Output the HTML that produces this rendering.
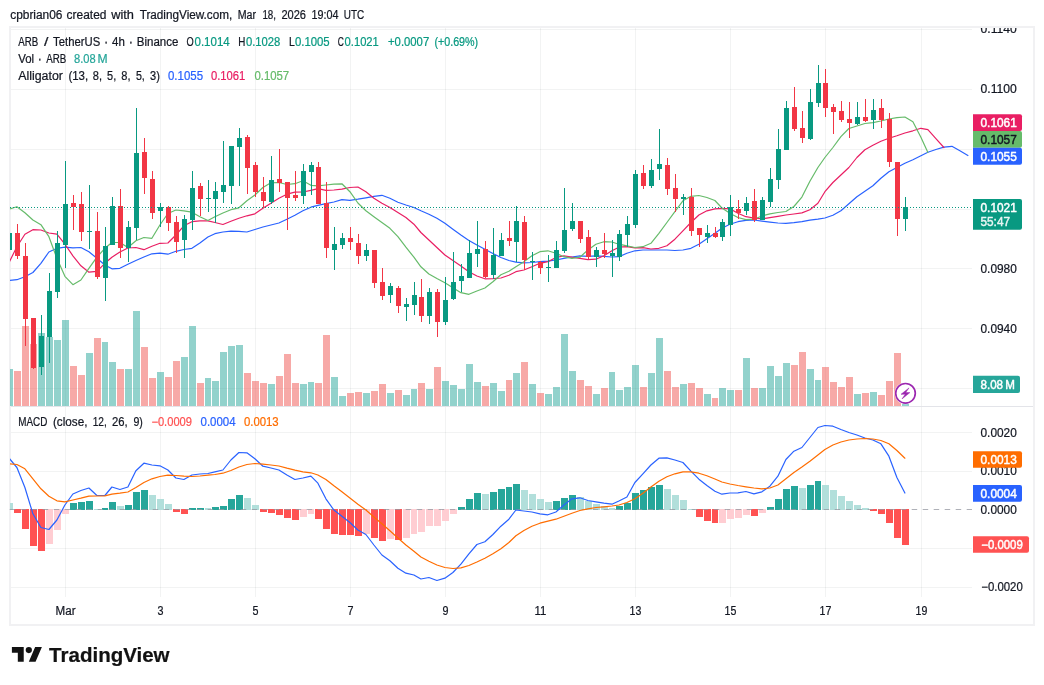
<!DOCTYPE html>
<html lang="en"><head><meta charset="utf-8"><title>ARB / TetherUS chart</title>
<style>html,body{margin:0;padding:0;background:#fff;}body{width:1044px;height:685px;overflow:hidden;}svg{display:block;will-change:transform;}</style>
</head><body>
<svg width="1044" height="685" viewBox="0 0 1044 685" font-family='"Liberation Sans", sans-serif' font-size="12" fill="#131722">
<defs>
<clipPath id="cmain"><rect x="10" y="28" width="962" height="378"/></clipPath>
<clipPath id="cmacd"><rect x="10" y="407" width="962" height="190"/></clipPath>
<clipPath id="caxis"><rect x="972" y="28" width="61" height="378"/></clipPath>
</defs>
<rect width="1044" height="685" fill="#fff"/>
<rect x="10" y="27" width="1024" height="598" fill="none" stroke="#f1f1f3" stroke-width="2" shape-rendering="crispEdges"/>
<g stroke="#2a2e39" stroke-opacity="0.06" stroke-width="1" shape-rendering="crispEdges">
<line x1="65.5" y1="28" x2="65.5" y2="597"/>
<line x1="160.5" y1="28" x2="160.5" y2="597"/>
<line x1="255.5" y1="28" x2="255.5" y2="597"/>
<line x1="350.5" y1="28" x2="350.5" y2="597"/>
<line x1="445.5" y1="28" x2="445.5" y2="597"/>
<line x1="540.5" y1="28" x2="540.5" y2="597"/>
<line x1="635.5" y1="28" x2="635.5" y2="597"/>
<line x1="730.5" y1="28" x2="730.5" y2="597"/>
<line x1="825.5" y1="28" x2="825.5" y2="597"/>
<line x1="921.5" y1="28" x2="921.5" y2="597"/>
<line x1="11" y1="29.5" x2="972" y2="29.5"/>
<line x1="11" y1="89.5" x2="972" y2="89.5"/>
<line x1="11" y1="149.5" x2="972" y2="149.5"/>
<line x1="11" y1="209.5" x2="972" y2="209.5"/>
<line x1="11" y1="268.5" x2="972" y2="268.5"/>
<line x1="11" y1="328.5" x2="972" y2="328.5"/>
<line x1="11" y1="388.5" x2="972" y2="388.5"/>
<line x1="11" y1="432.5" x2="972" y2="432.5"/>
<line x1="11" y1="471.5" x2="972" y2="471.5"/>
<line x1="11" y1="548.5" x2="972" y2="548.5"/>
<line x1="11" y1="587.5" x2="972" y2="587.5"/>
</g>
<g clip-path="url(#cmain)" shape-rendering="crispEdges">
<rect x="6" y="369" width="7" height="37" fill="rgba(38,166,154,0.5)"/>
<rect x="14" y="371" width="7" height="35" fill="rgba(239,83,80,0.5)"/>
<rect x="22" y="326" width="7" height="80" fill="rgba(239,83,80,0.5)"/>
<rect x="30" y="344" width="7" height="62" fill="rgba(239,83,80,0.5)"/>
<rect x="38" y="333" width="7" height="73" fill="rgba(38,166,154,0.5)"/>
<rect x="46" y="337" width="7" height="69" fill="rgba(38,166,154,0.5)"/>
<rect x="54" y="340" width="7" height="66" fill="rgba(38,166,154,0.5)"/>
<rect x="62" y="320" width="7" height="86" fill="rgba(38,166,154,0.5)"/>
<rect x="70" y="366" width="7" height="40" fill="rgba(239,83,80,0.5)"/>
<rect x="78" y="375" width="7" height="31" fill="rgba(239,83,80,0.5)"/>
<rect x="86" y="353" width="7" height="53" fill="rgba(38,166,154,0.5)"/>
<rect x="94" y="338" width="7" height="68" fill="rgba(239,83,80,0.5)"/>
<rect x="102" y="342" width="6" height="64" fill="rgba(38,166,154,0.5)"/>
<rect x="109" y="362" width="7" height="44" fill="rgba(38,166,154,0.5)"/>
<rect x="117" y="369" width="7" height="37" fill="rgba(239,83,80,0.5)"/>
<rect x="125" y="369" width="7" height="37" fill="rgba(38,166,154,0.5)"/>
<rect x="133" y="311" width="7" height="95" fill="rgba(38,166,154,0.5)"/>
<rect x="141" y="347" width="7" height="59" fill="rgba(239,83,80,0.5)"/>
<rect x="149" y="378" width="7" height="28" fill="rgba(239,83,80,0.5)"/>
<rect x="157" y="372" width="7" height="34" fill="rgba(38,166,154,0.5)"/>
<rect x="165" y="377" width="7" height="29" fill="rgba(239,83,80,0.5)"/>
<rect x="173" y="361" width="7" height="45" fill="rgba(239,83,80,0.5)"/>
<rect x="181" y="357" width="7" height="49" fill="rgba(38,166,154,0.5)"/>
<rect x="189" y="326" width="7" height="80" fill="rgba(38,166,154,0.5)"/>
<rect x="197" y="383" width="7" height="23" fill="rgba(239,83,80,0.5)"/>
<rect x="205" y="378" width="6" height="28" fill="rgba(38,166,154,0.5)"/>
<rect x="212" y="381" width="7" height="25" fill="rgba(38,166,154,0.5)"/>
<rect x="220" y="352" width="7" height="54" fill="rgba(38,166,154,0.5)"/>
<rect x="228" y="346" width="7" height="60" fill="rgba(38,166,154,0.5)"/>
<rect x="236" y="345" width="7" height="61" fill="rgba(38,166,154,0.5)"/>
<rect x="244" y="373" width="7" height="33" fill="rgba(239,83,80,0.5)"/>
<rect x="252" y="381" width="7" height="25" fill="rgba(239,83,80,0.5)"/>
<rect x="260" y="383" width="7" height="23" fill="rgba(239,83,80,0.5)"/>
<rect x="268" y="384" width="7" height="22" fill="rgba(38,166,154,0.5)"/>
<rect x="276" y="376" width="7" height="30" fill="rgba(239,83,80,0.5)"/>
<rect x="284" y="354" width="7" height="52" fill="rgba(239,83,80,0.5)"/>
<rect x="292" y="383" width="7" height="23" fill="rgba(239,83,80,0.5)"/>
<rect x="300" y="384" width="7" height="22" fill="rgba(38,166,154,0.5)"/>
<rect x="308" y="382" width="6" height="24" fill="rgba(38,166,154,0.5)"/>
<rect x="315" y="383" width="7" height="23" fill="rgba(239,83,80,0.5)"/>
<rect x="323" y="335" width="7" height="71" fill="rgba(239,83,80,0.5)"/>
<rect x="331" y="377" width="7" height="29" fill="rgba(38,166,154,0.5)"/>
<rect x="339" y="396" width="7" height="10" fill="rgba(38,166,154,0.5)"/>
<rect x="347" y="393" width="7" height="13" fill="rgba(239,83,80,0.5)"/>
<rect x="355" y="392" width="7" height="14" fill="rgba(239,83,80,0.5)"/>
<rect x="363" y="393" width="7" height="13" fill="rgba(38,166,154,0.5)"/>
<rect x="371" y="391" width="7" height="15" fill="rgba(239,83,80,0.5)"/>
<rect x="379" y="384" width="7" height="22" fill="rgba(239,83,80,0.5)"/>
<rect x="387" y="393" width="7" height="13" fill="rgba(38,166,154,0.5)"/>
<rect x="395" y="390" width="7" height="16" fill="rgba(239,83,80,0.5)"/>
<rect x="403" y="395" width="7" height="11" fill="rgba(38,166,154,0.5)"/>
<rect x="411" y="389" width="6" height="17" fill="rgba(38,166,154,0.5)"/>
<rect x="418" y="383" width="7" height="23" fill="rgba(239,83,80,0.5)"/>
<rect x="426" y="389" width="7" height="17" fill="rgba(38,166,154,0.5)"/>
<rect x="434" y="367" width="7" height="39" fill="rgba(239,83,80,0.5)"/>
<rect x="442" y="381" width="7" height="25" fill="rgba(38,166,154,0.5)"/>
<rect x="450" y="385" width="7" height="21" fill="rgba(38,166,154,0.5)"/>
<rect x="458" y="389" width="7" height="17" fill="rgba(38,166,154,0.5)"/>
<rect x="466" y="364" width="7" height="42" fill="rgba(38,166,154,0.5)"/>
<rect x="474" y="382" width="7" height="24" fill="rgba(38,166,154,0.5)"/>
<rect x="482" y="386" width="7" height="20" fill="rgba(239,83,80,0.5)"/>
<rect x="490" y="383" width="7" height="23" fill="rgba(38,166,154,0.5)"/>
<rect x="498" y="391" width="7" height="15" fill="rgba(38,166,154,0.5)"/>
<rect x="506" y="380" width="6" height="26" fill="rgba(239,83,80,0.5)"/>
<rect x="513" y="373" width="7" height="33" fill="rgba(38,166,154,0.5)"/>
<rect x="521" y="362" width="7" height="44" fill="rgba(239,83,80,0.5)"/>
<rect x="529" y="384" width="7" height="22" fill="rgba(38,166,154,0.5)"/>
<rect x="537" y="393" width="7" height="13" fill="rgba(239,83,80,0.5)"/>
<rect x="545" y="394" width="7" height="12" fill="rgba(38,166,154,0.5)"/>
<rect x="553" y="387" width="7" height="19" fill="rgba(38,166,154,0.5)"/>
<rect x="561" y="334" width="7" height="72" fill="rgba(38,166,154,0.5)"/>
<rect x="569" y="371" width="7" height="35" fill="rgba(38,166,154,0.5)"/>
<rect x="577" y="380" width="7" height="26" fill="rgba(239,83,80,0.5)"/>
<rect x="585" y="386" width="7" height="20" fill="rgba(239,83,80,0.5)"/>
<rect x="593" y="394" width="7" height="12" fill="rgba(38,166,154,0.5)"/>
<rect x="601" y="388" width="7" height="18" fill="rgba(239,83,80,0.5)"/>
<rect x="609" y="372" width="6" height="34" fill="rgba(38,166,154,0.5)"/>
<rect x="616" y="390" width="7" height="16" fill="rgba(38,166,154,0.5)"/>
<rect x="624" y="387" width="7" height="19" fill="rgba(38,166,154,0.5)"/>
<rect x="632" y="365" width="7" height="41" fill="rgba(38,166,154,0.5)"/>
<rect x="640" y="387" width="7" height="19" fill="rgba(239,83,80,0.5)"/>
<rect x="648" y="373" width="7" height="33" fill="rgba(38,166,154,0.5)"/>
<rect x="656" y="338" width="7" height="68" fill="rgba(38,166,154,0.5)"/>
<rect x="664" y="371" width="7" height="35" fill="rgba(239,83,80,0.5)"/>
<rect x="672" y="387" width="7" height="19" fill="rgba(239,83,80,0.5)"/>
<rect x="680" y="384" width="7" height="22" fill="rgba(38,166,154,0.5)"/>
<rect x="688" y="383" width="7" height="23" fill="rgba(239,83,80,0.5)"/>
<rect x="696" y="388" width="7" height="18" fill="rgba(239,83,80,0.5)"/>
<rect x="704" y="394" width="7" height="12" fill="rgba(38,166,154,0.5)"/>
<rect x="712" y="398" width="6" height="8" fill="rgba(239,83,80,0.5)"/>
<rect x="719" y="388" width="7" height="18" fill="rgba(38,166,154,0.5)"/>
<rect x="727" y="390" width="7" height="16" fill="rgba(38,166,154,0.5)"/>
<rect x="735" y="390" width="7" height="16" fill="rgba(239,83,80,0.5)"/>
<rect x="743" y="358" width="7" height="48" fill="rgba(38,166,154,0.5)"/>
<rect x="751" y="388" width="7" height="18" fill="rgba(239,83,80,0.5)"/>
<rect x="759" y="388" width="7" height="18" fill="rgba(38,166,154,0.5)"/>
<rect x="767" y="366" width="7" height="40" fill="rgba(38,166,154,0.5)"/>
<rect x="775" y="376" width="7" height="30" fill="rgba(38,166,154,0.5)"/>
<rect x="783" y="363" width="7" height="43" fill="rgba(38,166,154,0.5)"/>
<rect x="791" y="365" width="7" height="41" fill="rgba(239,83,80,0.5)"/>
<rect x="799" y="352" width="7" height="54" fill="rgba(239,83,80,0.5)"/>
<rect x="807" y="369" width="7" height="37" fill="rgba(38,166,154,0.5)"/>
<rect x="815" y="380" width="6" height="26" fill="rgba(38,166,154,0.5)"/>
<rect x="822" y="367" width="7" height="39" fill="rgba(239,83,80,0.5)"/>
<rect x="830" y="382" width="7" height="24" fill="rgba(239,83,80,0.5)"/>
<rect x="838" y="387" width="7" height="19" fill="rgba(239,83,80,0.5)"/>
<rect x="846" y="377" width="7" height="29" fill="rgba(239,83,80,0.5)"/>
<rect x="854" y="394" width="7" height="12" fill="rgba(38,166,154,0.5)"/>
<rect x="862" y="393" width="7" height="13" fill="rgba(239,83,80,0.5)"/>
<rect x="870" y="392" width="7" height="14" fill="rgba(38,166,154,0.5)"/>
<rect x="878" y="395" width="7" height="11" fill="rgba(239,83,80,0.5)"/>
<rect x="886" y="381" width="7" height="25" fill="rgba(239,83,80,0.5)"/>
<rect x="894" y="353" width="7" height="53" fill="rgba(239,83,80,0.5)"/>
<rect x="902" y="404" width="7" height="2" fill="rgba(38,166,154,0.5)"/>
</g>
<polyline points="8.9,280.5 16.9,279.7 24.9,276.7 32.9,272.5 40.9,263.3 48.9,252.0 56.9,248.3 64.9,247.2 72.9,247.8 80.9,247.5 88.9,251.7 96.9,258.3 104.9,265.0 111.9,268.8 119.9,268.3 127.9,264.2 135.9,260.5 143.9,257.0 151.9,253.8 159.9,253.2 167.9,254.2 175.9,251.3 183.9,249.5 191.9,248.3 199.9,243.0 207.9,237.0 214.9,233.7 222.9,232.0 230.9,231.2 238.9,231.3 246.9,232.0 254.9,229.5 262.9,227.0 270.9,225.0 278.9,223.0 286.9,219.2 294.9,215.3 302.9,210.8 310.9,207.2 317.9,205.3 325.9,203.7 333.9,202.0 341.9,199.7 349.9,200.3 357.9,199.2 365.9,197.8 373.9,196.3 381.9,195.3 389.9,198.3 397.9,202.2 405.9,205.0 413.9,207.5 420.9,210.8 428.9,214.2 436.9,218.3 444.9,223.3 452.9,229.2 460.9,235.0 468.9,240.4 476.9,245.0 484.9,249.3 492.9,253.5 500.9,257.5 508.9,260.5 515.9,262.2 523.9,262.8 531.9,262.5 539.9,261.7 547.9,261.2 555.9,260.0 563.9,258.3 571.9,257.0 579.9,255.8 587.9,256.3 595.9,255.8 603.9,256.3 611.9,257.0 618.9,256.7 626.9,253.3 634.9,250.8 642.9,250.0 650.9,250.0 658.9,250.0 666.9,250.0 674.9,250.5 682.9,250.0 690.9,248.3 698.9,244.2 706.9,238.7 714.9,233.3 721.9,228.3 729.9,224.2 737.9,221.7 745.9,220.3 753.9,220.0 761.9,221.1 769.9,222.1 777.9,223.0 785.9,223.3 793.9,222.7 801.9,221.6 809.9,220.2 817.9,219.2 824.9,218.0 832.9,215.3 840.9,210.8 848.9,203.8 856.9,196.7 864.9,191.3 872.9,185.8 880.9,178.3 888.9,171.7 896.9,167.5 904.9,163.3 912.9,159.7 920.9,155.8 927.9,152.2 935.9,149.5 943.9,147.2 951.9,146.3 959.9,150.8 967.9,155.5" fill="none" stroke="#2962ff" stroke-width="1.2" stroke-linejoin="round" stroke-linecap="round" clip-path="url(#cmain)" />
<polyline points="8.9,262.8 16.9,246.7 24.9,234.2 32.9,229.7 40.9,230.0 48.9,233.0 56.9,234.2 64.9,244.2 72.9,255.8 80.9,265.8 88.9,272.2 96.9,271.3 104.9,263.3 111.9,257.2 119.9,252.0 127.9,248.0 135.9,247.5 143.9,249.7 151.9,246.2 159.9,243.3 167.9,243.0 175.9,235.0 183.9,225.8 191.9,221.7 199.9,220.8 207.9,220.8 214.9,222.5 222.9,224.5 230.9,221.3 238.9,218.3 246.9,215.8 254.9,213.8 262.9,208.3 270.9,203.3 278.9,198.3 286.9,194.2 294.9,192.2 302.9,192.0 310.9,190.3 317.9,188.7 325.9,190.4 333.9,190.0 341.9,189.2 349.9,187.5 357.9,187.0 365.9,191.7 373.9,198.3 381.9,203.3 389.9,207.5 397.9,212.5 405.9,217.5 413.9,224.2 420.9,232.5 428.9,240.0 436.9,247.5 444.9,255.0 452.9,260.6 460.9,266.0 468.9,271.8 476.9,276.0 484.9,278.8 492.9,278.6 500.9,278.0 508.9,275.3 515.9,271.7 523.9,270.0 531.9,266.7 539.9,263.3 547.9,261.7 555.9,257.5 563.9,255.8 571.9,257.2 579.9,258.3 587.9,259.7 595.9,259.2 603.9,255.8 611.9,250.8 618.9,247.2 626.9,246.7 634.9,247.8 642.9,247.7 650.9,249.0 658.9,248.3 666.9,245.8 674.9,239.2 682.9,230.8 690.9,222.5 698.9,215.0 706.9,210.8 714.9,208.8 721.9,208.3 729.9,208.8 737.9,213.3 745.9,216.7 753.9,218.0 761.9,218.9 769.9,217.6 777.9,216.3 785.9,215.0 793.9,214.0 801.9,212.9 809.9,209.8 817.9,203.3 824.9,191.7 832.9,182.5 840.9,175.0 848.9,167.5 856.9,157.5 864.9,149.7 872.9,145.3 880.9,141.3 888.9,138.3 896.9,135.8 904.9,133.0 912.9,130.8 920.9,128.3 927.9,129.7 935.9,138.6 943.9,147.5" fill="none" stroke="#e91e63" stroke-width="1.2" stroke-linejoin="round" stroke-linecap="round" clip-path="url(#cmain)" />
<polyline points="8.9,209.2 16.9,206.7 24.9,212.8 32.9,220.0 40.9,224.7 48.9,236.7 56.9,258.3 64.9,276.3 72.9,284.7 80.9,280.0 88.9,268.3 96.9,257.2 104.9,248.3 111.9,242.5 119.9,242.5 127.9,247.5 135.9,240.8 143.9,237.5 151.9,238.3 159.9,225.0 167.9,213.5 175.9,210.0 183.9,210.8 191.9,212.2 199.9,216.7 207.9,220.5 214.9,216.7 222.9,213.0 230.9,209.7 238.9,207.8 246.9,200.8 254.9,195.0 262.9,187.5 270.9,182.8 278.9,182.5 286.9,184.5 294.9,183.7 302.9,180.8 310.9,185.3 317.9,185.8 325.9,185.0 333.9,184.2 341.9,183.8 349.9,191.7 357.9,203.0 365.9,210.8 373.9,216.7 381.9,222.5 389.9,228.3 397.9,236.7 405.9,247.2 413.9,257.2 420.9,266.8 428.9,274.0 436.9,278.5 444.9,282.7 452.9,287.7 460.9,292.7 468.9,294.3 476.9,291.0 484.9,288.0 492.9,281.8 500.9,274.7 508.9,271.3 515.9,266.7 523.9,261.7 531.9,255.8 539.9,251.7 547.9,250.8 555.9,253.3 563.9,256.7 571.9,258.3 579.9,257.2 587.9,250.0 595.9,244.2 603.9,241.7 611.9,242.0 618.9,244.2 626.9,245.8 634.9,247.5 642.9,246.7 650.9,243.3 658.9,233.3 666.9,222.5 674.9,211.7 682.9,200.8 690.9,196.3 698.9,195.5 706.9,197.5 714.9,200.5 721.9,208.0 729.9,213.3 737.9,217.5 745.9,219.7 753.9,219.2 761.9,216.0 769.9,213.8 777.9,212.5 785.9,211.5 793.9,206.5 801.9,197.1 809.9,181.2 817.9,167.5 824.9,157.5 832.9,147.5 840.9,136.7 848.9,128.5 856.9,126.0 864.9,123.5 872.9,122.7 880.9,121.0 888.9,119.0 896.9,117.7 904.9,117.0 912.9,121.7 920.9,137.2 927.9,152.4" fill="none" stroke="#66bb6a" stroke-width="1.2" stroke-linejoin="round" stroke-linecap="round" clip-path="url(#cmain)" />
<g clip-path="url(#cmain)" shape-rendering="crispEdges">
<rect x="9" y="233" width="1" height="17" fill="#089981"/>
<rect x="7" y="233" width="5" height="17" fill="#089981"/>
<rect x="17" y="224" width="1" height="35" fill="#f23645"/>
<rect x="15" y="233" width="5" height="23" fill="#f23645"/>
<rect x="25" y="243" width="1" height="103" fill="#f23645"/>
<rect x="23" y="256" width="5" height="63" fill="#f23645"/>
<rect x="33" y="318" width="1" height="51" fill="#f23645"/>
<rect x="31" y="318" width="5" height="50" fill="#f23645"/>
<rect x="41" y="315" width="1" height="60" fill="#089981"/>
<rect x="39" y="336" width="5" height="31" fill="#089981"/>
<rect x="49" y="273" width="1" height="90" fill="#089981"/>
<rect x="47" y="291" width="5" height="46" fill="#089981"/>
<rect x="57" y="231" width="1" height="67" fill="#089981"/>
<rect x="55" y="243" width="5" height="49" fill="#089981"/>
<rect x="65" y="161" width="1" height="107" fill="#089981"/>
<rect x="63" y="204" width="5" height="41" fill="#089981"/>
<rect x="73" y="195" width="1" height="35" fill="#f23645"/>
<rect x="71" y="203" width="5" height="4" fill="#f23645"/>
<rect x="81" y="192" width="1" height="49" fill="#f23645"/>
<rect x="79" y="204" width="5" height="28" fill="#f23645"/>
<rect x="89" y="185" width="1" height="64" fill="#089981"/>
<rect x="87" y="231" width="5" height="1" fill="#089981"/>
<rect x="97" y="212" width="1" height="67" fill="#f23645"/>
<rect x="95" y="231" width="5" height="46" fill="#f23645"/>
<rect x="105" y="227" width="1" height="74" fill="#089981"/>
<rect x="103" y="246" width="5" height="32" fill="#089981"/>
<rect x="112" y="197" width="1" height="48" fill="#089981"/>
<rect x="110" y="206" width="5" height="39" fill="#089981"/>
<rect x="120" y="189" width="1" height="69" fill="#f23645"/>
<rect x="118" y="206" width="5" height="42" fill="#f23645"/>
<rect x="128" y="221" width="1" height="41" fill="#089981"/>
<rect x="126" y="227" width="5" height="21" fill="#089981"/>
<rect x="136" y="108" width="1" height="132" fill="#089981"/>
<rect x="134" y="153" width="5" height="75" fill="#089981"/>
<rect x="144" y="138" width="1" height="56" fill="#f23645"/>
<rect x="142" y="152" width="5" height="26" fill="#f23645"/>
<rect x="152" y="171" width="1" height="48" fill="#f23645"/>
<rect x="150" y="179" width="5" height="34" fill="#f23645"/>
<rect x="160" y="203" width="1" height="24" fill="#089981"/>
<rect x="158" y="207" width="5" height="4" fill="#089981"/>
<rect x="168" y="206" width="1" height="25" fill="#f23645"/>
<rect x="166" y="207" width="5" height="16" fill="#f23645"/>
<rect x="176" y="216" width="1" height="37" fill="#f23645"/>
<rect x="174" y="222" width="5" height="20" fill="#f23645"/>
<rect x="184" y="215" width="1" height="43" fill="#089981"/>
<rect x="182" y="219" width="5" height="21" fill="#089981"/>
<rect x="192" y="171" width="1" height="59" fill="#089981"/>
<rect x="190" y="188" width="5" height="32" fill="#089981"/>
<rect x="200" y="183" width="1" height="33" fill="#f23645"/>
<rect x="198" y="186" width="5" height="13" fill="#f23645"/>
<rect x="208" y="180" width="1" height="32" fill="#089981"/>
<rect x="206" y="198" width="5" height="1" fill="#089981"/>
<rect x="215" y="182" width="1" height="41" fill="#089981"/>
<rect x="213" y="191" width="5" height="8" fill="#089981"/>
<rect x="223" y="141" width="1" height="62" fill="#089981"/>
<rect x="221" y="185" width="5" height="7" fill="#089981"/>
<rect x="231" y="146" width="1" height="58" fill="#089981"/>
<rect x="229" y="146" width="5" height="40" fill="#089981"/>
<rect x="239" y="128" width="1" height="58" fill="#089981"/>
<rect x="237" y="138" width="5" height="9" fill="#089981"/>
<rect x="247" y="135" width="1" height="59" fill="#f23645"/>
<rect x="245" y="137" width="5" height="31" fill="#f23645"/>
<rect x="255" y="162" width="1" height="35" fill="#f23645"/>
<rect x="253" y="165" width="5" height="27" fill="#f23645"/>
<rect x="263" y="177" width="1" height="31" fill="#f23645"/>
<rect x="261" y="192" width="5" height="9" fill="#f23645"/>
<rect x="271" y="156" width="1" height="48" fill="#089981"/>
<rect x="269" y="180" width="5" height="22" fill="#089981"/>
<rect x="279" y="149" width="1" height="43" fill="#f23645"/>
<rect x="277" y="179" width="5" height="4" fill="#f23645"/>
<rect x="287" y="182" width="1" height="48" fill="#f23645"/>
<rect x="285" y="182" width="5" height="16" fill="#f23645"/>
<rect x="295" y="171" width="1" height="30" fill="#f23645"/>
<rect x="293" y="195" width="5" height="3" fill="#f23645"/>
<rect x="303" y="164" width="1" height="40" fill="#089981"/>
<rect x="301" y="171" width="5" height="25" fill="#089981"/>
<rect x="311" y="162" width="1" height="33" fill="#089981"/>
<rect x="309" y="165" width="5" height="7" fill="#089981"/>
<rect x="318" y="162" width="1" height="42" fill="#f23645"/>
<rect x="316" y="167" width="5" height="37" fill="#f23645"/>
<rect x="326" y="182" width="1" height="76" fill="#f23645"/>
<rect x="324" y="203" width="5" height="45" fill="#f23645"/>
<rect x="334" y="227" width="1" height="43" fill="#089981"/>
<rect x="332" y="244" width="5" height="6" fill="#089981"/>
<rect x="342" y="233" width="1" height="16" fill="#089981"/>
<rect x="340" y="238" width="5" height="7" fill="#089981"/>
<rect x="350" y="227" width="1" height="23" fill="#f23645"/>
<rect x="348" y="238" width="5" height="4" fill="#f23645"/>
<rect x="358" y="234" width="1" height="30" fill="#f23645"/>
<rect x="356" y="243" width="5" height="13" fill="#f23645"/>
<rect x="366" y="244" width="1" height="17" fill="#089981"/>
<rect x="364" y="250" width="5" height="6" fill="#089981"/>
<rect x="374" y="250" width="1" height="38" fill="#f23645"/>
<rect x="372" y="250" width="5" height="33" fill="#f23645"/>
<rect x="382" y="268" width="1" height="32" fill="#f23645"/>
<rect x="380" y="282" width="5" height="14" fill="#f23645"/>
<rect x="390" y="283" width="1" height="20" fill="#089981"/>
<rect x="388" y="286" width="5" height="9" fill="#089981"/>
<rect x="398" y="286" width="1" height="27" fill="#f23645"/>
<rect x="396" y="288" width="5" height="18" fill="#f23645"/>
<rect x="406" y="298" width="1" height="23" fill="#089981"/>
<rect x="404" y="304" width="5" height="3" fill="#089981"/>
<rect x="414" y="282" width="1" height="33" fill="#089981"/>
<rect x="412" y="295" width="5" height="10" fill="#089981"/>
<rect x="421" y="279" width="1" height="43" fill="#f23645"/>
<rect x="419" y="297" width="5" height="19" fill="#f23645"/>
<rect x="429" y="288" width="1" height="36" fill="#089981"/>
<rect x="427" y="292" width="5" height="24" fill="#089981"/>
<rect x="437" y="289" width="1" height="48" fill="#f23645"/>
<rect x="435" y="292" width="5" height="30" fill="#f23645"/>
<rect x="445" y="277" width="1" height="48" fill="#089981"/>
<rect x="443" y="300" width="5" height="22" fill="#089981"/>
<rect x="453" y="252" width="1" height="48" fill="#089981"/>
<rect x="451" y="282" width="5" height="17" fill="#089981"/>
<rect x="461" y="264" width="1" height="28" fill="#089981"/>
<rect x="459" y="276" width="5" height="5" fill="#089981"/>
<rect x="469" y="240" width="1" height="38" fill="#089981"/>
<rect x="467" y="253" width="5" height="25" fill="#089981"/>
<rect x="477" y="221" width="1" height="46" fill="#089981"/>
<rect x="475" y="249" width="5" height="5" fill="#089981"/>
<rect x="485" y="241" width="1" height="37" fill="#f23645"/>
<rect x="483" y="249" width="5" height="28" fill="#f23645"/>
<rect x="493" y="228" width="1" height="51" fill="#089981"/>
<rect x="491" y="255" width="5" height="20" fill="#089981"/>
<rect x="501" y="233" width="1" height="23" fill="#089981"/>
<rect x="499" y="240" width="5" height="16" fill="#089981"/>
<rect x="509" y="221" width="1" height="25" fill="#f23645"/>
<rect x="507" y="238" width="5" height="3" fill="#f23645"/>
<rect x="516" y="206" width="1" height="56" fill="#089981"/>
<rect x="514" y="221" width="5" height="21" fill="#089981"/>
<rect x="524" y="216" width="1" height="54" fill="#f23645"/>
<rect x="522" y="222" width="5" height="38" fill="#f23645"/>
<rect x="532" y="252" width="1" height="28" fill="#089981"/>
<rect x="530" y="261" width="5" height="1" fill="#089981"/>
<rect x="540" y="261" width="1" height="13" fill="#f23645"/>
<rect x="538" y="262" width="5" height="6" fill="#f23645"/>
<rect x="548" y="255" width="1" height="27" fill="#089981"/>
<rect x="546" y="267" width="5" height="1" fill="#089981"/>
<rect x="556" y="241" width="1" height="27" fill="#089981"/>
<rect x="554" y="250" width="5" height="18" fill="#089981"/>
<rect x="564" y="188" width="1" height="65" fill="#089981"/>
<rect x="562" y="230" width="5" height="21" fill="#089981"/>
<rect x="572" y="203" width="1" height="28" fill="#089981"/>
<rect x="570" y="221" width="5" height="8" fill="#089981"/>
<rect x="580" y="221" width="1" height="22" fill="#f23645"/>
<rect x="578" y="221" width="5" height="18" fill="#f23645"/>
<rect x="588" y="230" width="1" height="29" fill="#f23645"/>
<rect x="586" y="237" width="5" height="20" fill="#f23645"/>
<rect x="596" y="247" width="1" height="20" fill="#089981"/>
<rect x="594" y="250" width="5" height="7" fill="#089981"/>
<rect x="604" y="233" width="1" height="25" fill="#f23645"/>
<rect x="602" y="250" width="5" height="4" fill="#f23645"/>
<rect x="612" y="240" width="1" height="37" fill="#089981"/>
<rect x="610" y="253" width="5" height="3" fill="#089981"/>
<rect x="619" y="230" width="1" height="31" fill="#089981"/>
<rect x="617" y="234" width="5" height="23" fill="#089981"/>
<rect x="627" y="216" width="1" height="31" fill="#089981"/>
<rect x="625" y="224" width="5" height="11" fill="#089981"/>
<rect x="635" y="170" width="1" height="58" fill="#089981"/>
<rect x="633" y="174" width="5" height="51" fill="#089981"/>
<rect x="643" y="165" width="1" height="24" fill="#f23645"/>
<rect x="641" y="173" width="5" height="13" fill="#f23645"/>
<rect x="651" y="159" width="1" height="29" fill="#089981"/>
<rect x="649" y="170" width="5" height="16" fill="#089981"/>
<rect x="659" y="129" width="1" height="51" fill="#089981"/>
<rect x="657" y="164" width="5" height="5" fill="#089981"/>
<rect x="667" y="158" width="1" height="37" fill="#f23645"/>
<rect x="665" y="165" width="5" height="24" fill="#f23645"/>
<rect x="675" y="174" width="1" height="38" fill="#f23645"/>
<rect x="673" y="188" width="5" height="11" fill="#f23645"/>
<rect x="683" y="194" width="1" height="21" fill="#089981"/>
<rect x="681" y="197" width="5" height="2" fill="#089981"/>
<rect x="691" y="188" width="1" height="48" fill="#f23645"/>
<rect x="689" y="197" width="5" height="34" fill="#f23645"/>
<rect x="699" y="228" width="1" height="19" fill="#f23645"/>
<rect x="697" y="228" width="5" height="7" fill="#f23645"/>
<rect x="707" y="225" width="1" height="18" fill="#089981"/>
<rect x="705" y="233" width="5" height="4" fill="#089981"/>
<rect x="715" y="227" width="1" height="11" fill="#f23645"/>
<rect x="713" y="233" width="5" height="4" fill="#f23645"/>
<rect x="722" y="219" width="1" height="22" fill="#089981"/>
<rect x="720" y="222" width="5" height="15" fill="#089981"/>
<rect x="730" y="195" width="1" height="41" fill="#089981"/>
<rect x="728" y="207" width="5" height="18" fill="#089981"/>
<rect x="738" y="200" width="1" height="19" fill="#f23645"/>
<rect x="736" y="209" width="5" height="4" fill="#f23645"/>
<rect x="746" y="197" width="1" height="18" fill="#089981"/>
<rect x="744" y="203" width="5" height="8" fill="#089981"/>
<rect x="754" y="189" width="1" height="33" fill="#f23645"/>
<rect x="752" y="201" width="5" height="19" fill="#f23645"/>
<rect x="762" y="197" width="1" height="23" fill="#089981"/>
<rect x="760" y="200" width="5" height="20" fill="#089981"/>
<rect x="770" y="168" width="1" height="39" fill="#089981"/>
<rect x="768" y="179" width="5" height="23" fill="#089981"/>
<rect x="778" y="129" width="1" height="60" fill="#089981"/>
<rect x="776" y="149" width="5" height="31" fill="#089981"/>
<rect x="786" y="101" width="1" height="49" fill="#089981"/>
<rect x="784" y="108" width="5" height="42" fill="#089981"/>
<rect x="794" y="87" width="1" height="44" fill="#f23645"/>
<rect x="792" y="107" width="5" height="22" fill="#f23645"/>
<rect x="802" y="111" width="1" height="32" fill="#f23645"/>
<rect x="800" y="128" width="5" height="10" fill="#f23645"/>
<rect x="810" y="89" width="1" height="51" fill="#089981"/>
<rect x="808" y="102" width="5" height="37" fill="#089981"/>
<rect x="818" y="65" width="1" height="42" fill="#089981"/>
<rect x="816" y="83" width="5" height="20" fill="#089981"/>
<rect x="825" y="69" width="1" height="48" fill="#f23645"/>
<rect x="823" y="83" width="5" height="25" fill="#f23645"/>
<rect x="833" y="104" width="1" height="30" fill="#f23645"/>
<rect x="831" y="107" width="5" height="5" fill="#f23645"/>
<rect x="841" y="101" width="1" height="21" fill="#f23645"/>
<rect x="839" y="111" width="5" height="9" fill="#f23645"/>
<rect x="849" y="102" width="1" height="36" fill="#f23645"/>
<rect x="847" y="119" width="5" height="4" fill="#f23645"/>
<rect x="857" y="102" width="1" height="23" fill="#089981"/>
<rect x="855" y="117" width="5" height="7" fill="#089981"/>
<rect x="865" y="99" width="1" height="23" fill="#f23645"/>
<rect x="863" y="117" width="5" height="4" fill="#f23645"/>
<rect x="873" y="99" width="1" height="30" fill="#089981"/>
<rect x="871" y="110" width="5" height="10" fill="#089981"/>
<rect x="881" y="99" width="1" height="29" fill="#f23645"/>
<rect x="879" y="108" width="5" height="12" fill="#f23645"/>
<rect x="889" y="113" width="1" height="54" fill="#f23645"/>
<rect x="887" y="119" width="5" height="43" fill="#f23645"/>
<rect x="897" y="162" width="1" height="74" fill="#f23645"/>
<rect x="895" y="162" width="5" height="57" fill="#f23645"/>
<rect x="905" y="197" width="1" height="34" fill="#089981"/>
<rect x="903" y="207" width="5" height="12" fill="#089981"/>
</g>
<line x1="10" y1="207.5" x2="972" y2="207.5" stroke="#089981" stroke-width="1" stroke-dasharray="1 2" shape-rendering="crispEdges"/>
<rect x="11" y="406" width="1022" height="1" fill="#e3e4e9" shape-rendering="crispEdges"/>
<g clip-path="url(#cmacd)" shape-rendering="crispEdges">
<rect x="6" y="503" width="7" height="7" fill="#b2dfdb"/>
<rect x="14" y="509" width="7" height="4" fill="#ff5252"/>
<rect x="22" y="509" width="7" height="20" fill="#ff5252"/>
<rect x="30" y="509" width="7" height="37" fill="#ff5252"/>
<rect x="38" y="509" width="7" height="42" fill="#ff5252"/>
<rect x="46" y="509" width="7" height="35" fill="#ffcdd2"/>
<rect x="54" y="509" width="7" height="21" fill="#ffcdd2"/>
<rect x="62" y="509" width="7" height="5" fill="#ffcdd2"/>
<rect x="70" y="503" width="7" height="7" fill="#26a69a"/>
<rect x="78" y="502" width="7" height="8" fill="#26a69a"/>
<rect x="86" y="501" width="7" height="9" fill="#26a69a"/>
<rect x="94" y="509" width="7" height="1" fill="#b2dfdb"/>
<rect x="102" y="508" width="6" height="2" fill="#26a69a"/>
<rect x="109" y="502" width="7" height="8" fill="#26a69a"/>
<rect x="117" y="506" width="7" height="4" fill="#b2dfdb"/>
<rect x="125" y="505" width="7" height="5" fill="#26a69a"/>
<rect x="133" y="492" width="7" height="18" fill="#26a69a"/>
<rect x="141" y="490" width="7" height="20" fill="#26a69a"/>
<rect x="149" y="495" width="7" height="15" fill="#b2dfdb"/>
<rect x="157" y="499" width="7" height="11" fill="#b2dfdb"/>
<rect x="165" y="504" width="7" height="6" fill="#b2dfdb"/>
<rect x="173" y="509" width="7" height="3" fill="#ff5252"/>
<rect x="181" y="509" width="7" height="5" fill="#ff5252"/>
<rect x="189" y="508" width="7" height="2" fill="#26a69a"/>
<rect x="197" y="508" width="7" height="2" fill="#26a69a"/>
<rect x="205" y="508" width="6" height="2" fill="#b2dfdb"/>
<rect x="212" y="507" width="7" height="3" fill="#26a69a"/>
<rect x="220" y="506" width="7" height="4" fill="#26a69a"/>
<rect x="228" y="499" width="7" height="11" fill="#26a69a"/>
<rect x="236" y="495" width="7" height="15" fill="#26a69a"/>
<rect x="244" y="498" width="7" height="12" fill="#b2dfdb"/>
<rect x="252" y="505" width="7" height="5" fill="#b2dfdb"/>
<rect x="260" y="509" width="7" height="3" fill="#ff5252"/>
<rect x="268" y="509" width="7" height="4" fill="#ff5252"/>
<rect x="276" y="509" width="7" height="6" fill="#ff5252"/>
<rect x="284" y="509" width="7" height="9" fill="#ff5252"/>
<rect x="292" y="509" width="7" height="11" fill="#ff5252"/>
<rect x="300" y="509" width="7" height="8" fill="#ffcdd2"/>
<rect x="308" y="509" width="6" height="5" fill="#ffcdd2"/>
<rect x="315" y="509" width="7" height="10" fill="#ff5252"/>
<rect x="323" y="509" width="7" height="20" fill="#ff5252"/>
<rect x="331" y="509" width="7" height="25" fill="#ff5252"/>
<rect x="339" y="509" width="7" height="26" fill="#ff5252"/>
<rect x="347" y="509" width="7" height="26" fill="#ff5252"/>
<rect x="355" y="509" width="7" height="27" fill="#ff5252"/>
<rect x="363" y="509" width="7" height="25" fill="#ffcdd2"/>
<rect x="371" y="509" width="7" height="29" fill="#ff5252"/>
<rect x="379" y="509" width="7" height="32" fill="#ff5252"/>
<rect x="387" y="509" width="7" height="30" fill="#ffcdd2"/>
<rect x="395" y="509" width="7" height="31" fill="#ff5252"/>
<rect x="403" y="509" width="7" height="29" fill="#ffcdd2"/>
<rect x="411" y="509" width="6" height="25" fill="#ffcdd2"/>
<rect x="418" y="509" width="7" height="23" fill="#ffcdd2"/>
<rect x="426" y="509" width="7" height="17" fill="#ffcdd2"/>
<rect x="434" y="509" width="7" height="17" fill="#ffcdd2"/>
<rect x="442" y="509" width="7" height="12" fill="#ffcdd2"/>
<rect x="450" y="509" width="7" height="5" fill="#ffcdd2"/>
<rect x="458" y="507" width="7" height="3" fill="#26a69a"/>
<rect x="466" y="499" width="7" height="11" fill="#26a69a"/>
<rect x="474" y="493" width="7" height="17" fill="#26a69a"/>
<rect x="482" y="494" width="7" height="16" fill="#b2dfdb"/>
<rect x="490" y="492" width="7" height="18" fill="#26a69a"/>
<rect x="498" y="489" width="7" height="21" fill="#26a69a"/>
<rect x="506" y="487" width="6" height="23" fill="#26a69a"/>
<rect x="513" y="484" width="7" height="26" fill="#26a69a"/>
<rect x="521" y="490" width="7" height="20" fill="#b2dfdb"/>
<rect x="529" y="494" width="7" height="16" fill="#b2dfdb"/>
<rect x="537" y="499" width="7" height="11" fill="#b2dfdb"/>
<rect x="545" y="502" width="7" height="8" fill="#b2dfdb"/>
<rect x="553" y="501" width="7" height="9" fill="#26a69a"/>
<rect x="561" y="498" width="7" height="12" fill="#26a69a"/>
<rect x="569" y="495" width="7" height="15" fill="#26a69a"/>
<rect x="577" y="497" width="7" height="13" fill="#b2dfdb"/>
<rect x="585" y="501" width="7" height="9" fill="#b2dfdb"/>
<rect x="593" y="504" width="7" height="6" fill="#b2dfdb"/>
<rect x="601" y="506" width="7" height="4" fill="#b2dfdb"/>
<rect x="609" y="508" width="6" height="2" fill="#b2dfdb"/>
<rect x="616" y="506" width="7" height="4" fill="#26a69a"/>
<rect x="624" y="503" width="7" height="7" fill="#26a69a"/>
<rect x="632" y="493" width="7" height="17" fill="#26a69a"/>
<rect x="640" y="490" width="7" height="20" fill="#26a69a"/>
<rect x="648" y="487" width="7" height="23" fill="#26a69a"/>
<rect x="656" y="485" width="7" height="25" fill="#26a69a"/>
<rect x="664" y="489" width="7" height="21" fill="#b2dfdb"/>
<rect x="672" y="495" width="7" height="15" fill="#b2dfdb"/>
<rect x="680" y="500" width="7" height="10" fill="#b2dfdb"/>
<rect x="688" y="509" width="7" height="1" fill="#b2dfdb"/>
<rect x="696" y="509" width="7" height="8" fill="#ff5252"/>
<rect x="704" y="509" width="7" height="12" fill="#ff5252"/>
<rect x="712" y="509" width="6" height="14" fill="#ff5252"/>
<rect x="719" y="509" width="7" height="14" fill="#ffcdd2"/>
<rect x="727" y="509" width="7" height="10" fill="#ffcdd2"/>
<rect x="735" y="509" width="7" height="9" fill="#ffcdd2"/>
<rect x="743" y="509" width="7" height="6" fill="#ffcdd2"/>
<rect x="751" y="509" width="7" height="7" fill="#ff5252"/>
<rect x="759" y="509" width="7" height="4" fill="#ffcdd2"/>
<rect x="767" y="507" width="7" height="3" fill="#26a69a"/>
<rect x="775" y="499" width="7" height="11" fill="#26a69a"/>
<rect x="783" y="489" width="7" height="21" fill="#26a69a"/>
<rect x="791" y="486" width="7" height="24" fill="#26a69a"/>
<rect x="799" y="488" width="7" height="22" fill="#b2dfdb"/>
<rect x="807" y="485" width="7" height="25" fill="#26a69a"/>
<rect x="815" y="481" width="6" height="29" fill="#26a69a"/>
<rect x="822" y="485" width="7" height="25" fill="#b2dfdb"/>
<rect x="830" y="490" width="7" height="20" fill="#b2dfdb"/>
<rect x="838" y="496" width="7" height="14" fill="#b2dfdb"/>
<rect x="846" y="501" width="7" height="9" fill="#b2dfdb"/>
<rect x="854" y="505" width="7" height="5" fill="#b2dfdb"/>
<rect x="862" y="508" width="7" height="2" fill="#b2dfdb"/>
<rect x="870" y="509" width="7" height="2" fill="#ff5252"/>
<rect x="878" y="509" width="7" height="5" fill="#ff5252"/>
<rect x="886" y="509" width="7" height="14" fill="#ff5252"/>
<rect x="894" y="509" width="7" height="29" fill="#ff5252"/>
<rect x="902" y="509" width="7" height="36" fill="#ff5252"/>
</g>
<line x1="9.7" y1="509.5" x2="972" y2="509.5" stroke="#9598a1" stroke-width="1" stroke-dasharray="5.5 5.5" opacity="0.75"/>
<polyline points="8.9,458.0 16.9,467.5 24.9,487.5 32.9,513.8 40.9,527.5 48.9,529.5 56.9,520.0 64.9,505.0 72.9,494.0 80.9,490.5 88.9,488.0 96.9,495.5 104.9,495.5 111.9,487.0 119.9,489.5 127.9,487.0 135.9,470.8 143.9,463.2 151.9,465.0 159.9,465.8 167.9,470.0 175.9,478.0 183.9,479.5 191.9,475.0 199.9,474.0 207.9,473.5 214.9,471.8 222.9,470.0 230.9,460.0 238.9,452.5 246.9,452.8 254.9,458.8 262.9,466.2 270.9,468.0 278.9,470.0 286.9,475.0 294.9,479.5 302.9,478.0 310.9,476.2 317.9,483.2 325.9,498.8 333.9,510.0 341.9,516.2 349.9,522.5 357.9,530.0 365.9,534.5 373.9,545.0 381.9,555.0 389.9,560.8 397.9,568.2 405.9,573.2 413.9,575.0 420.9,579.0 428.9,577.5 436.9,580.5 444.9,578.2 452.9,572.5 460.9,564.2 468.9,553.8 476.9,544.5 484.9,541.8 492.9,534.5 500.9,526.2 508.9,519.2 515.9,510.0 523.9,511.0 531.9,512.0 539.9,513.8 547.9,514.8 555.9,512.0 563.9,505.0 571.9,498.8 579.9,497.8 587.9,500.5 595.9,501.8 603.9,503.2 611.9,504.2 618.9,501.0 626.9,497.0 634.9,482.5 642.9,473.8 650.9,465.0 658.9,458.2 666.9,457.8 674.9,460.0 682.9,462.5 690.9,471.2 698.9,479.2 706.9,485.5 714.9,491.2 721.9,494.2 729.9,493.0 737.9,492.8 745.9,491.5 753.9,493.8 761.9,491.8 769.9,486.2 777.9,476.2 785.9,459.5 793.9,451.2 801.9,447.5 809.9,437.5 817.9,427.5 824.9,425.5 832.9,426.2 840.9,429.5 848.9,432.5 856.9,435.0 864.9,438.0 872.9,440.0 880.9,443.8 888.9,456.2 896.9,477.5 904.9,493.0" fill="none" stroke="#2962ff" stroke-width="1.2" stroke-linejoin="round" stroke-linecap="round" clip-path="url(#cmacd)" />
<polyline points="8.9,463.8 16.9,464.5 24.9,468.8 32.9,478.8 40.9,488.8 48.9,496.2 56.9,500.8 64.9,501.8 72.9,500.0 80.9,498.2 88.9,496.2 96.9,496.0 104.9,495.8 111.9,494.2 119.9,493.2 127.9,492.0 135.9,487.5 143.9,482.5 151.9,478.8 159.9,476.5 167.9,475.2 175.9,475.5 183.9,476.2 191.9,476.5 199.9,476.0 207.9,475.2 214.9,474.5 222.9,473.2 230.9,470.5 238.9,467.0 246.9,464.5 254.9,463.5 262.9,464.2 270.9,465.0 278.9,466.0 286.9,468.2 294.9,470.2 302.9,471.8 310.9,472.8 317.9,475.0 325.9,479.5 333.9,485.8 341.9,491.8 349.9,498.0 357.9,504.2 365.9,510.0 373.9,517.0 381.9,523.8 389.9,530.8 397.9,538.0 405.9,545.0 413.9,551.2 420.9,557.0 428.9,561.2 436.9,565.0 444.9,567.5 452.9,568.5 460.9,567.8 468.9,565.5 476.9,562.0 484.9,558.2 492.9,553.8 500.9,548.8 508.9,542.5 515.9,535.8 523.9,530.5 531.9,526.2 539.9,523.2 547.9,521.2 555.9,519.2 563.9,516.2 571.9,513.2 579.9,510.5 587.9,508.8 595.9,507.5 603.9,506.8 611.9,506.0 618.9,505.0 626.9,502.5 634.9,498.8 642.9,493.2 650.9,487.0 658.9,481.2 666.9,476.8 674.9,473.8 682.9,471.8 690.9,471.8 698.9,473.2 706.9,475.8 714.9,479.0 721.9,482.0 729.9,484.0 737.9,485.5 745.9,486.8 753.9,488.0 761.9,488.8 769.9,488.0 777.9,485.0 785.9,478.8 793.9,472.5 801.9,467.0 809.9,461.2 817.9,455.0 824.9,449.5 832.9,445.0 840.9,442.0 848.9,440.0 856.9,439.0 864.9,438.5 872.9,439.0 880.9,440.5 888.9,443.8 896.9,450.5 904.9,458.2" fill="none" stroke="#ff6d00" stroke-width="1.2" stroke-linejoin="round" stroke-linecap="round" clip-path="url(#cmacd)" />
<text y="18.7" stroke="#131722" stroke-width="0.22" ><tspan x="10.2" textLength="52.3" lengthAdjust="spacingAndGlyphs">cpbrian06</tspan> <tspan x="66.6" textLength="39.9" lengthAdjust="spacingAndGlyphs">created</tspan> <tspan x="111.2" textLength="22.8" lengthAdjust="spacingAndGlyphs">with</tspan> <tspan x="139.7" textLength="92.6" lengthAdjust="spacingAndGlyphs">TradingView.com,</tspan> <tspan x="237.7" textLength="18.3" lengthAdjust="spacingAndGlyphs">Mar</tspan> <tspan x="262.4" textLength="13.6" lengthAdjust="spacingAndGlyphs">18,</tspan> <tspan x="281.4" textLength="24.6" lengthAdjust="spacingAndGlyphs">2026</tspan> <tspan x="311.6" textLength="27.0" lengthAdjust="spacingAndGlyphs">19:04</tspan> <tspan x="343.8" textLength="20.4" lengthAdjust="spacingAndGlyphs">UTC</tspan></text>
<text y="45.8" stroke="#131722" stroke-width="0.22" ><tspan x="18.2" textLength="20.0" lengthAdjust="spacingAndGlyphs">ARB</tspan> <tspan x="43.9" textLength="4.4" lengthAdjust="spacingAndGlyphs">/</tspan> <tspan x="53.1" textLength="47.1" lengthAdjust="spacingAndGlyphs">TetherUS</tspan> <tspan x="105.1" textLength="2.2" lengthAdjust="spacingAndGlyphs" stroke-width="0.9">·</tspan> <tspan x="112" textLength="12.8" lengthAdjust="spacingAndGlyphs">4h</tspan> <tspan x="129.7" textLength="2.3" lengthAdjust="spacingAndGlyphs" stroke-width="0.9">·</tspan> <tspan x="136.8" textLength="41.6" lengthAdjust="spacingAndGlyphs">Binance</tspan> <tspan x="186.6" textLength="7.2" lengthAdjust="spacingAndGlyphs">O</tspan> <tspan x="194.5" textLength="35.2" lengthAdjust="spacingAndGlyphs" fill="#089981" stroke="#089981">0.1014</tspan> <tspan x="238.2" textLength="7.1" lengthAdjust="spacingAndGlyphs">H</tspan> <tspan x="245.9" textLength="34.4" lengthAdjust="spacingAndGlyphs" fill="#089981" stroke="#089981">0.1028</tspan> <tspan x="288.9" textLength="5.4" lengthAdjust="spacingAndGlyphs">L</tspan> <tspan x="294.9" textLength="34.8" lengthAdjust="spacingAndGlyphs" fill="#089981" stroke="#089981">0.1005</tspan> <tspan x="337.7" textLength="6.1" lengthAdjust="spacingAndGlyphs">C</tspan> <tspan x="344.6" textLength="34.2" lengthAdjust="spacingAndGlyphs" fill="#089981" stroke="#089981">0.1021</tspan> <tspan x="388" textLength="41.2" lengthAdjust="spacingAndGlyphs" fill="#089981" stroke="#089981">+0.0007</tspan> <tspan x="434.4" textLength="43.8" lengthAdjust="spacingAndGlyphs" fill="#089981" stroke="#089981">(+0.69%)</tspan></text>
<text y="62.8" stroke="#131722" stroke-width="0.22" ><tspan x="18.2" textLength="15.9" lengthAdjust="spacingAndGlyphs">Vol</tspan> <tspan x="38.8" textLength="2.2" lengthAdjust="spacingAndGlyphs" stroke-width="0.9">·</tspan> <tspan x="46.2" textLength="20.1" lengthAdjust="spacingAndGlyphs">ARB</tspan> <tspan x="74" textLength="21.6" lengthAdjust="spacingAndGlyphs" fill="#26a69a" stroke="#26a69a">8.08</tspan> <tspan x="97.6" textLength="10.1" lengthAdjust="spacingAndGlyphs" fill="#26a69a" stroke="#26a69a">M</tspan></text>
<text y="79.8" stroke="#131722" stroke-width="0.22" ><tspan x="18.2" textLength="44.7" lengthAdjust="spacingAndGlyphs">Alligator</tspan> <tspan x="68.4" textLength="19.8" lengthAdjust="spacingAndGlyphs">(13,</tspan> <tspan x="92.8" textLength="9.2" lengthAdjust="spacingAndGlyphs">8,</tspan> <tspan x="107.1" textLength="9.1" lengthAdjust="spacingAndGlyphs">5,</tspan> <tspan x="121.3" textLength="9.2" lengthAdjust="spacingAndGlyphs">8,</tspan> <tspan x="135.9" textLength="8.9" lengthAdjust="spacingAndGlyphs">5,</tspan> <tspan x="150" textLength="9.8" lengthAdjust="spacingAndGlyphs">3)</tspan> <tspan x="168" textLength="35" lengthAdjust="spacingAndGlyphs" fill="#2962ff" stroke="#2962ff">0.1055</tspan> <tspan x="211" textLength="34.3" lengthAdjust="spacingAndGlyphs" fill="#e91e63" stroke="#e91e63">0.1061</tspan> <tspan x="254.4" textLength="34.8" lengthAdjust="spacingAndGlyphs" fill="#66bb6a" stroke="#66bb6a">0.1057</tspan></text>
<text y="425.9" stroke="#131722" stroke-width="0.22" ><tspan x="18.2" textLength="29.1" lengthAdjust="spacingAndGlyphs">MACD</tspan> <tspan x="52.9" textLength="34.6" lengthAdjust="spacingAndGlyphs">(close,</tspan> <tspan x="92.7" textLength="14.1" lengthAdjust="spacingAndGlyphs">12,</tspan> <tspan x="112" textLength="15.7" lengthAdjust="spacingAndGlyphs">26,</tspan> <tspan x="133.4" textLength="9.4" lengthAdjust="spacingAndGlyphs">9)</tspan> <tspan x="151.4" textLength="40.6" lengthAdjust="spacingAndGlyphs" fill="#ff5252" stroke="#ff5252">−0.0009</tspan> <tspan x="200.5" textLength="35.1" lengthAdjust="spacingAndGlyphs" fill="#2962ff" stroke="#2962ff">0.0004</tspan> <tspan x="243.9" textLength="34.8" lengthAdjust="spacingAndGlyphs" fill="#ff6d00" stroke="#ff6d00">0.0013</tspan></text>
<g clip-path="url(#caxis)">
<text x="980.5" y="33.3" textLength="36.3" lengthAdjust="spacingAndGlyphs"  stroke="#131722" stroke-width="0.22">0.1140</text>
<text x="980.5" y="93.3" textLength="36.3" lengthAdjust="spacingAndGlyphs"  stroke="#131722" stroke-width="0.22">0.1100</text>
<text x="980.5" y="273.3" textLength="36.3" lengthAdjust="spacingAndGlyphs"  stroke="#131722" stroke-width="0.22">0.0980</text>
<text x="980.5" y="333.3" textLength="36.3" lengthAdjust="spacingAndGlyphs"  stroke="#131722" stroke-width="0.22">0.0940</text>
</g>
<text x="980.5" y="437.3" textLength="36.3" lengthAdjust="spacingAndGlyphs"  stroke="#131722" stroke-width="0.22">0.0020</text>
<text x="980.5" y="475.3" textLength="36.3" lengthAdjust="spacingAndGlyphs"  stroke="#131722" stroke-width="0.22">0.0010</text>
<text x="980.5" y="514.3" textLength="36.3" lengthAdjust="spacingAndGlyphs"  stroke="#131722" stroke-width="0.22">0.0000</text>
<text x="981.3" y="591.3" textLength="41.5" lengthAdjust="spacingAndGlyphs"  stroke="#131722" stroke-width="0.22">−0.0020</text>
<path d="M973,114.2 H1020 Q1022,114.2 1022,116.2 V129 Q1022,131 1020,131 H973 Z" fill="#e91e63"/>
<text x="980.5" y="126.89999999999999" textLength="36.3" lengthAdjust="spacingAndGlyphs" fill="#fff" stroke="#fff" stroke-width="0.45" stroke-linejoin="round">0.1061</text>
<path d="M973,131 H1020 Q1022,131 1022,133 V145.7 Q1022,147.7 1020,147.7 H973 Z" fill="#66bb6a"/>
<text x="980.5" y="143.65" textLength="36.3" lengthAdjust="spacingAndGlyphs" fill="#131722" stroke="#131722" stroke-width="0.45" stroke-linejoin="round">0.1057</text>
<path d="M973,147.7 H1020 Q1022,147.7 1022,149.7 V162.7 Q1022,164.7 1020,164.7 H973 Z" fill="#2962ff"/>
<text x="980.5" y="160.5" textLength="36.3" lengthAdjust="spacingAndGlyphs" fill="#fff" stroke="#fff" stroke-width="0.45" stroke-linejoin="round">0.1055</text>
<path d="M973,199 H1020 Q1022,199 1022,201 V227.7 Q1022,229.7 1020,229.7 H973 Z" fill="#089981"/>
<text x="980.5" y="211.8" textLength="36.3" lengthAdjust="spacingAndGlyphs" fill="#fff" stroke="#fff" stroke-width="0.45" stroke-linejoin="round">0.1021</text>
<text x="980.5" y="225.8" textLength="29.5" lengthAdjust="spacingAndGlyphs" fill="#fff" fill-opacity="0.85" stroke="#fff" stroke-opacity="0.85" stroke-width="0.45" stroke-linejoin="round">55:47</text>
<path d="M973,375.8 H1018 Q1020,375.8 1020,377.8 V391 Q1020,393 1018,393 H973 Z" fill="#26a69a"/>
<text x="980.5" y="388.7" textLength="34.5" lengthAdjust="spacingAndGlyphs" fill="#fff" stroke="#fff" stroke-width="0.45" stroke-linejoin="round">8.08 M</text>
<path d="M973,451.2 H1020 Q1022,451.2 1022,453.2 V465.8 Q1022,467.8 1020,467.8 H973 Z" fill="#ff6d00"/>
<text x="980.5" y="463.8" textLength="36.3" lengthAdjust="spacingAndGlyphs" fill="#fff" stroke="#fff" stroke-width="0.45" stroke-linejoin="round">0.0013</text>
<path d="M973,485 H1020 Q1022,485 1022,487 V499.7 Q1022,501.7 1020,501.7 H973 Z" fill="#2962ff"/>
<text x="980.5" y="497.65000000000003" textLength="36.3" lengthAdjust="spacingAndGlyphs" fill="#fff" stroke="#fff" stroke-width="0.45" stroke-linejoin="round">0.0004</text>
<path d="M973,536.2 H1027 Q1029,536.2 1029,538.2 V550.8 Q1029,552.8 1027,552.8 H973 Z" fill="#ff5252"/>
<text x="981.3" y="548.8" textLength="41.5" lengthAdjust="spacingAndGlyphs" fill="#fff" stroke="#fff" stroke-width="0.45" stroke-linejoin="round">−0.0009</text>
<text x="65.5" y="614.8" textLength="20.0" lengthAdjust="spacingAndGlyphs" text-anchor="middle"  stroke="#131722" stroke-width="0.22">Mar</text>
<text x="160.5" y="614.8" textLength="6.0" lengthAdjust="spacingAndGlyphs" text-anchor="middle"  stroke="#131722" stroke-width="0.22">3</text>
<text x="255.5" y="614.8" textLength="6.0" lengthAdjust="spacingAndGlyphs" text-anchor="middle"  stroke="#131722" stroke-width="0.22">5</text>
<text x="350.5" y="614.8" textLength="6.0" lengthAdjust="spacingAndGlyphs" text-anchor="middle"  stroke="#131722" stroke-width="0.22">7</text>
<text x="445.5" y="614.8" textLength="6.0" lengthAdjust="spacingAndGlyphs" text-anchor="middle"  stroke="#131722" stroke-width="0.22">9</text>
<text x="540.5" y="614.8" textLength="11.8" lengthAdjust="spacingAndGlyphs" text-anchor="middle"  stroke="#131722" stroke-width="0.22">11</text>
<text x="635.5" y="614.8" textLength="11.8" lengthAdjust="spacingAndGlyphs" text-anchor="middle"  stroke="#131722" stroke-width="0.22">13</text>
<text x="730.5" y="614.8" textLength="11.8" lengthAdjust="spacingAndGlyphs" text-anchor="middle"  stroke="#131722" stroke-width="0.22">15</text>
<text x="825.5" y="614.8" textLength="11.8" lengthAdjust="spacingAndGlyphs" text-anchor="middle"  stroke="#131722" stroke-width="0.22">17</text>
<text x="921.5" y="614.8" textLength="11.8" lengthAdjust="spacingAndGlyphs" text-anchor="middle"  stroke="#131722" stroke-width="0.22">19</text>
<circle cx="905.5" cy="393.3" r="10.9" fill="#fff"/>
<circle cx="905.5" cy="393.3" r="9.8" fill="#fff" stroke="#9c27b0" stroke-width="1.7"/>
<path d="M909,387.9 L901.0,394.3 L905.2,394.3 L902.0,398.9 L909.9,392.6 L905.7,392.6 Z" fill="#9c27b0" stroke="#9c27b0" stroke-width="0.5" stroke-linejoin="round"/>
<g transform="translate(11.9,643.73) scale(0.845,0.817)" fill="#121212"><path d="M14 22H7V11H0V4h14v18zM28 22h-8l7.5-18h8L28 22z"/><circle cx="20" cy="7.8" r="3.7"/></g>
<text x="49.1" y="661.6" textLength="120.5" lengthAdjust="spacingAndGlyphs" fill="#121212" font-size="20.6" font-weight="bold"  stroke="#121212" stroke-width="0.22">TradingView</text>
</svg>
</body></html>
